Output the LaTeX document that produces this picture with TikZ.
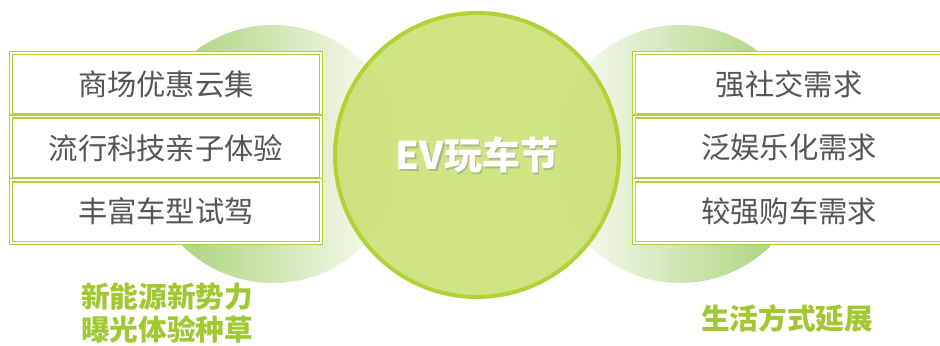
\documentclass[tikz,border=0pt]{standalone}
\usepackage{fontspec}
\setmainfont{Noto Sans CJK SC}
\usepackage{xcolor}
\usetikzlibrary{positioning}

\definecolor{lime}{RGB}{176,210,54}
\definecolor{limefill}{RGB}{200,224,114}
\definecolor{sidegreen}{RGB}{160,206,106}
\definecolor{labelgreen}{RGB}{160,200,48}
\definecolor{textgray}{RGB}{85,85,85}

\begin{document}
\begin{tikzpicture}[x=0.75pt, y=0.75pt, node distance=0pt,
itembox/.style={draw=lime, line width=0.9pt, double=white, double distance=1.4pt,
  fill=white, minimum width=232pt, minimum height=47pt, inner sep=0pt,
  font=\fontsize{22}{24}\selectfont, text=textgray},
tagline/.style={font=\fontsize{21.5}{25}\selectfont\bfseries, text=labelgreen, align=center}]

\useasboundingbox (0,0) rectangle (940,346);

% side circles
\shade[left color=sidegreen, right color=white] (273,192) circle (129);
\shade[left color=white, right color=sidegreen] (680,192) circle (129);

% centre circle
\node (hub) [circle, draw=lime, line width=3pt, fill=limefill, fill opacity=0.88,
  minimum size=213pt, inner sep=0pt] at (477,191) {};
\node (hubshadow) [text=black!45, opacity=0.5, font=\fontsize{28.5}{32}\selectfont\bfseries]
  at ([xshift=1.2pt, yshift=-1.2pt]hub.center) {EV玩车节};
\node (title) [text=white, font=\fontsize{28.5}{32}\selectfont\bfseries] at (hub.center) {EV玩车节};

% left boxes
\node (mall) [itembox] at (166,262) {商场优惠云集};
\node (tech) [itembox, below=of mall] {流行科技亲子体验};
\node (drive) [itembox, below=of tech] {丰富车型试驾};

% right boxes
\node (social) [itembox] at (789,262) {强社交需求};
\node (fun) [itembox, below=of social] {泛娱乐化需求};
\node (buy) [itembox, below=of fun] {较强购车需求};

% labels
\node (brand) [tagline] at (167,33) {新能源新势力\\曝光体验种草};
\node (life) [tagline] at (787,28) {生活方式延展};

\end{tikzpicture}
\end{document}
